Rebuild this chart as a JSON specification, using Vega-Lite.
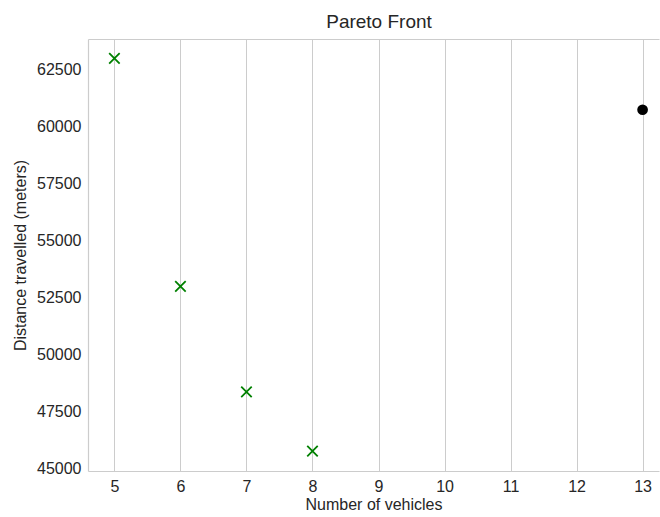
{
  "$schema": "https://vega.github.io/schema/vega-lite/v6.json",
  "autosize": "none",
  "width": 571,
  "height": 432,
  "padding": {"left": 88, "top": 39, "right": 1, "bottom": 46},
  "background": "white",
  "title": {"text": "Pareto Front", "fontSize": 19, "font": "Liberation Sans", "fontWeight": "normal", "color": "#262626", "offset": 7, "dx": 5.5},
  "config": {
    "font": "Liberation Sans",
    "view": {"stroke": null},
    "axis": {"domainColor": "#cccccc", "domainWidth": 1.2, "gridColor": "#cccccc", "gridWidth": 1, "ticks": false, "labelFontSize": 16, "titleFontSize": 16, "labelColor": "#262626", "titleColor": "#262626", "titleFontWeight": "normal", "labelFont": "Liberation Sans", "titleFont": "Liberation Sans"}
  },
  "data": {"values": [
    {"vehicles": 5, "distance": 63010, "type": "pareto"},
    {"vehicles": 6, "distance": 52990, "type": "pareto"},
    {"vehicles": 7, "distance": 48350, "type": "pareto"},
    {"vehicles": 8, "distance": 45740, "type": "pareto"},
    {"vehicles": 13, "distance": 60750, "type": "other"}
  ]},
  "encoding": {
    "y": {"field": "distance", "type": "quantitative",
      "scale": {"domain": [44870, 63860], "nice": false, "zero": false},
      "axis": {"values": [45000, 47500, 50000, 52500, 55000, 57500, 60000, 62500], "format": "d", "grid": false, "labelPadding": 7, "title": "Distance travelled (meters)", "titlePadding": 8}}
  },
  "layer": [
    {
      "transform": [{"filter": "datum.type === 'pareto'"}],
      "mark": {"type": "point", "shape": "M-1,-1L1,1M-1,1L1,-1", "filled": false, "size": 110, "strokeWidth": 1.8, "color": "#008000", "opacity": 1},
      "encoding": {
        "x": {"field": "vehicles", "type": "quantitative",
          "scale": {"domain": [4.6, 13.2485], "nice": false, "zero": false},
          "axis": {"values": [5, 6, 7, 8, 9, 10, 11, 12, 13], "format": "d", "grid": true, "labelPadding": 7, "title": "Number of vehicles", "titlePadding": 2, "orient": "bottom"}}
      }
    },
    {
      "transform": [{"filter": "datum.type === 'other'"}],
      "mark": {"type": "point", "shape": "circle", "filled": true, "size": 115, "color": "#000000", "opacity": 1},
      "encoding": {
        "x": {"field": "vehicles", "type": "quantitative",
          "axis": {"orient": "top", "labels": false, "ticks": false, "grid": false, "title": null, "domain": true}}
      }
    }
  ],
  "resolve": {"axis": {"x": "independent"}}
}
